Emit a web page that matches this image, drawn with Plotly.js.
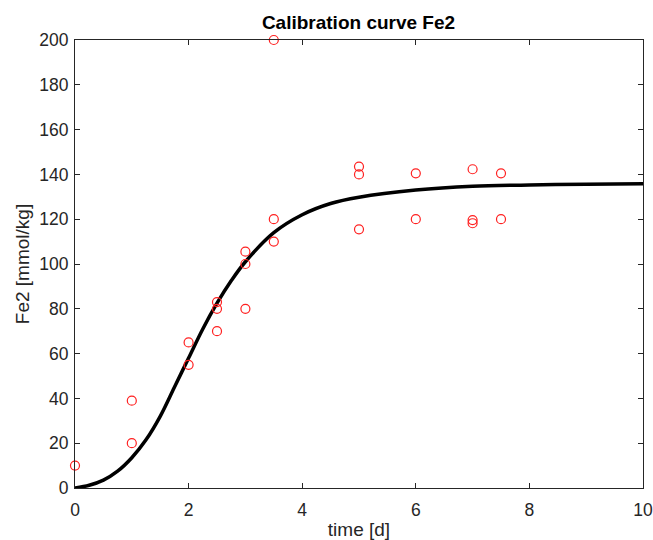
<!DOCTYPE html>
<html>
<head>
<meta charset="utf-8">
<script src="https://cdn.plot.ly/plotly-3.0.1.min.js"></script>
<style>html,body{margin:0;padding:0;background:#fff;}#chart{width:653px;height:540px;}</style>
</head>
<body>
<div id="chart"></div>
<script>
// Measured data points
const dataTime = [0, 1, 1, 2, 2, 2.5, 2.5, 2.5, 3, 3, 3, 3.5, 3.5, 3.5, 5, 5, 5, 6, 6, 7, 7, 7, 7.5, 7.5];
const dataFe2  = [10, 39, 20, 65, 55, 83, 80, 70, 105.5, 100, 80, 120, 110, 200, 143.5, 140, 115.5, 140.5, 120, 142.3, 119.6, 118.2, 140.5, 120];

// Calibration curve values
const curveTime = [0, 0.25, 0.5, 0.75, 1, 1.25, 1.5, 1.75, 2, 2.25, 2.5, 2.75, 3, 3.5, 4, 4.5, 5, 6, 7, 8, 9, 10];
const curveFe2  = [0, 1.2, 3.5, 7.5, 13.5, 21.5, 32, 45, 58, 71, 82.5, 92.5, 101, 114, 122, 127, 129.8, 133, 134.7, 135.3, 135.6, 135.8];

const xTicks = [0, 2, 4, 6, 8, 10];
const yTicks = [0, 20, 40, 60, 80, 100, 120, 140, 160, 180, 200];

const fontFam = 'Liberation Sans, Arial, Helvetica, sans-serif';

const traces = [
  {
    x: curveTime, y: curveFe2, mode: 'lines', type: 'scatter',
    line: {color: '#000000', width: 3.5, shape: 'spline', smoothing: 1},
    hoverinfo: 'skip', showlegend: false
  },
  {
    x: dataTime, y: dataFe2, mode: 'markers', type: 'scatter',
    marker: {symbol: 'circle-open', size: 9, color: '#ff2020', line: {width: 1.2, color: '#ff3333'}},
    cliponaxis: false, showlegend: false
  }
];

const axisCommon = {
  showgrid: false, zeroline: false, showline: true, linecolor: '#262626', linewidth: 1,
  mirror: 'ticks', ticks: 'inside', ticklen: 5, tickcolor: '#262626', tickwidth: 1,
  tickfont: {family: fontFam, size: 17.5, color: '#262626'}
};

const layout = {
  width: 653, height: 540,
  margin: {l: 75, r: 10, t: 40, b: 52},
  paper_bgcolor: '#ffffff', plot_bgcolor: '#ffffff',
  title: {text: '<b>Calibration curve Fe2</b>', font: {family: fontFam, size: 19, color: '#000000'}, x: 0.549, xanchor: 'center', y: 0.959, yanchor: 'middle'},
  xaxis: Object.assign({}, axisCommon, {
    range: [0, 10], tickvals: xTicks, ticktext: xTicks.map(String), ticklabelstandoff: 6,
    title: {text: 'time [d]', font: {family: fontFam, size: 19, color: '#262626'}, standoff: 4}
  }),
  yaxis: Object.assign({}, axisCommon, {
    range: [0, 200], tickvals: yTicks, ticktext: yTicks.map(String), ticklabelstandoff: 2,
    title: {text: 'Fe2 [mmol/kg]', font: {family: fontFam, size: 19, color: '#262626'}, standoff: 4}
  }),
  showlegend: false
};

Plotly.newPlot('chart', traces, layout, {staticPlot: true, displayModeBar: false});
</script>
</body>
</html>
